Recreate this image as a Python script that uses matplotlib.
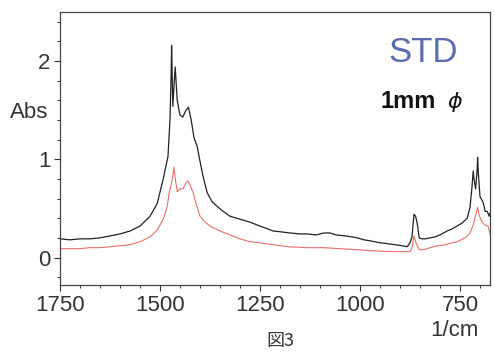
import matplotlib
matplotlib.use("Agg")
import matplotlib.pyplot as plt
from matplotlib.ticker import MultipleLocator

# Black spectrum (STD) - wavenumber, absorbance
wn_black = [1750, 1725, 1700, 1675, 1650, 1625, 1600, 1575, 1550, 1525, 1507,
            1492, 1480, 1475, 1472, 1471, 1468, 1465, 1462, 1457, 1450, 1443,
            1435, 1429, 1422, 1415, 1407, 1400, 1392, 1382, 1370, 1357, 1342,
            1325, 1300, 1275, 1250, 1230, 1217, 1195, 1175, 1150, 1132, 1110,
            1090, 1075, 1060, 1037, 1020, 1007, 990, 975, 950, 930, 912, 895,
            882, 875, 870, 865, 861, 857, 852, 845, 837, 825, 812, 800, 782,
            770, 762, 745, 732, 725, 720, 717, 715, 711, 707, 706, 704, 700,
            692, 687, 682, 677, 675]
abs_black = [0.19, 0.18, 0.19, 0.19, 0.20, 0.22, 0.24, 0.27, 0.32, 0.42, 0.55,
             0.80, 1.03, 1.41, 1.90, 2.16, 1.54, 1.75, 1.94, 1.60, 1.45, 1.43,
             1.50, 1.53, 1.40, 1.22, 1.13, 0.98, 0.82, 0.66, 0.57, 0.52, 0.47,
             0.42, 0.39, 0.36, 0.32, 0.29, 0.27, 0.26, 0.25, 0.24, 0.24, 0.23,
             0.25, 0.25, 0.23, 0.22, 0.21, 0.20, 0.18, 0.17, 0.15, 0.14, 0.13,
             0.12, 0.11, 0.15, 0.21, 0.44, 0.42, 0.35, 0.20, 0.19, 0.19, 0.20,
             0.21, 0.23, 0.27, 0.29, 0.31, 0.35, 0.40, 0.51, 0.72, 0.88, 0.80,
             0.70, 0.90, 1.02, 0.85, 0.62, 0.56, 0.47, 0.47, 0.42, 0.45]

# Red spectrum
wn_red = [1750, 1725, 1700, 1675, 1650, 1625, 1600, 1575, 1550, 1525, 1507,
          1492, 1482, 1477, 1471, 1467, 1465, 1461, 1457, 1450, 1442, 1435,
          1430, 1425, 1417, 1410, 1400, 1387, 1375, 1350, 1325, 1300, 1275,
          1250, 1217, 1180, 1132, 1090, 1050, 1010, 975, 925, 890, 875, 870,
          865, 860, 852, 840, 825, 805, 787, 770, 757, 737, 725, 717, 712,
          706, 702, 695, 687, 680, 675]
abs_red = [0.09, 0.09, 0.09, 0.10, 0.10, 0.11, 0.12, 0.13, 0.16, 0.21, 0.28,
           0.39, 0.52, 0.66, 0.76, 0.85, 0.92, 0.78, 0.67, 0.70, 0.70, 0.76,
           0.78, 0.74, 0.66, 0.55, 0.42, 0.36, 0.32, 0.27, 0.23, 0.19, 0.16,
           0.15, 0.13, 0.11, 0.10, 0.10, 0.09, 0.08, 0.07, 0.06, 0.06, 0.06,
           0.10, 0.22, 0.15, 0.08, 0.08, 0.10, 0.12, 0.13, 0.15, 0.16, 0.20,
           0.25, 0.33, 0.41, 0.51, 0.43, 0.36, 0.33, 0.32, 0.24]

plt.rcParams['font.family'] = ['Liberation Sans', 'DejaVu Sans']

fig = plt.figure(figsize=(4.95, 3.52), dpi=100)
ax = fig.add_axes([60 / 495, 1 - 285 / 352, 430 / 495, 273 / 352])

ax.plot(wn_black, abs_black, color='#222222', linewidth=0.9)
ax.plot(wn_red, abs_red, color='#e8706a', linewidth=0.8)

ax.set_xlim(1750, 675)
ax.set_ylim(-0.28, 2.5)
ax.set_xticks([1750, 1500, 1250, 1000, 750])
ax.set_yticks([0, 1, 2])
ax.xaxis.set_minor_locator(MultipleLocator(50))
ax.yaxis.set_minor_locator(MultipleLocator(0.2))
ax.tick_params(which='major', length=4, width=0.8, labelsize=16, colors='#333333', pad=3)
ax.tick_params(which='minor', length=2.5, width=0.7, colors='#333333')
for s in ax.spines.values():
    s.set_color('#444444')
    s.set_linewidth(0.9)

fig.text(29 / 495, 1 - 113 / 352, 'Abs', fontsize=16, ha='center', va='center', color='#333333')
fig.text(454 / 495, 1 - 330 / 352, '1/cm', fontsize=16, ha='center', va='center', color='#333333')
fig.text(280 / 495, 1 - 341 / 352, '図3', fontsize=13, ha='center', va='center', color='#333333',
         family=['Noto Sans CJK JP', 'DejaVu Sans'])
fig.text(423 / 495, 1 - 53 / 352, 'STD', fontsize=25, ha='center', va='center', color='#5b6db0')
fig.text(380 / 495, 1 - 102 / 352, '1mm', fontsize=17, fontweight='bold', ha='left', va='center',
         color='#111111')
fig.text(455 / 495, 1 - 102 / 352, r'$\phi$', fontsize=16, ha='center', va='center', color='#111111')

fig.savefig('out.png', dpi=100)
